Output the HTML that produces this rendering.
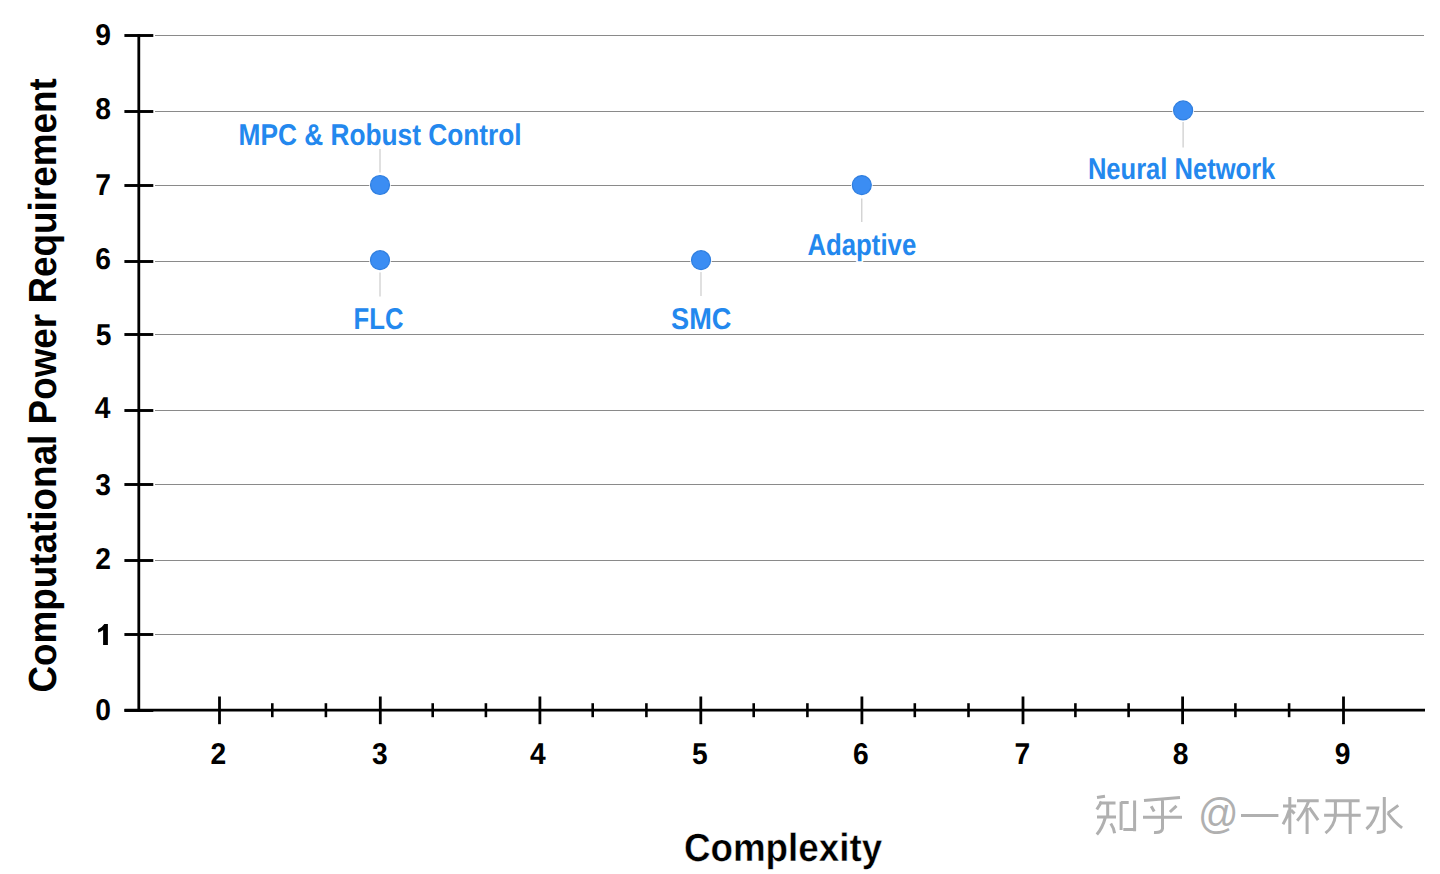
<!DOCTYPE html>
<html><head><meta charset="utf-8"><title>Chart</title>
<style>
html,body{margin:0;padding:0;background:#fff;width:1440px;height:874px;overflow:hidden;}
svg{display:block;}
.tk{font-family:"Liberation Sans",sans-serif;font-weight:bold;text-rendering:geometricPrecision;font-size:30.0px;fill:#000;}
.bl{font-family:"Liberation Sans",sans-serif;font-weight:bold;text-rendering:geometricPrecision;font-size:30.0px;fill:#2388ee;stroke:#fff;stroke-width:4px;paint-order:stroke;stroke-linejoin:round;}
.ti{font-family:"Liberation Sans",sans-serif;font-weight:bold;text-rendering:geometricPrecision;font-size:39.2px;fill:#000;stroke:#fff;stroke-width:0.4px;paint-order:fill;}
.wm{fill:none;stroke:#b0b0b0;stroke-width:3;}
</style></head>
<body>
<svg width="1440" height="874" viewBox="0 0 1440 874">
<line x1="155" y1="634.50" x2="1424" y2="634.50" stroke="#8a8a8a" stroke-width="1"/>
<line x1="155" y1="560.50" x2="1424" y2="560.50" stroke="#8a8a8a" stroke-width="1"/>
<line x1="155" y1="484.50" x2="1424" y2="484.50" stroke="#8a8a8a" stroke-width="1"/>
<line x1="155" y1="410.50" x2="1424" y2="410.50" stroke="#8a8a8a" stroke-width="1"/>
<line x1="155" y1="334.50" x2="1424" y2="334.50" stroke="#8a8a8a" stroke-width="1"/>
<line x1="155" y1="261.50" x2="1424" y2="261.50" stroke="#8a8a8a" stroke-width="1"/>
<line x1="155" y1="185.50" x2="1424" y2="185.50" stroke="#8a8a8a" stroke-width="1"/>
<line x1="155" y1="111.50" x2="1424" y2="111.50" stroke="#8a8a8a" stroke-width="1"/>
<line x1="155" y1="35.50" x2="1424" y2="35.50" stroke="#8a8a8a" stroke-width="1"/>
<line x1="138.8" y1="34" x2="138.8" y2="711.5" stroke="#000" stroke-width="2.8"/>
<line x1="124.4" y1="710.50" x2="153.3" y2="710.50" stroke="#000" stroke-width="2.9"/>
<line x1="124.4" y1="634.50" x2="153.3" y2="634.50" stroke="#000" stroke-width="2.9"/>
<line x1="124.4" y1="560.50" x2="153.3" y2="560.50" stroke="#000" stroke-width="2.9"/>
<line x1="124.4" y1="484.50" x2="153.3" y2="484.50" stroke="#000" stroke-width="2.9"/>
<line x1="124.4" y1="410.50" x2="153.3" y2="410.50" stroke="#000" stroke-width="2.9"/>
<line x1="124.4" y1="334.50" x2="153.3" y2="334.50" stroke="#000" stroke-width="2.9"/>
<line x1="124.4" y1="261.50" x2="153.3" y2="261.50" stroke="#000" stroke-width="2.9"/>
<line x1="124.4" y1="185.50" x2="153.3" y2="185.50" stroke="#000" stroke-width="2.9"/>
<line x1="124.4" y1="111.50" x2="153.3" y2="111.50" stroke="#000" stroke-width="2.9"/>
<line x1="124.4" y1="35.50" x2="153.3" y2="35.50" stroke="#000" stroke-width="2.9"/>
<line x1="124.5" y1="710.2" x2="1425" y2="710.2" stroke="#000" stroke-width="2.8"/>
<line x1="219.5" y1="696.5" x2="219.5" y2="724.2" stroke="#000" stroke-width="2.8"/>
<line x1="272.3" y1="703.2" x2="272.3" y2="717.2" stroke="#000" stroke-width="2.6"/>
<line x1="325.9" y1="703.2" x2="325.9" y2="717.2" stroke="#000" stroke-width="2.6"/>
<line x1="380.3" y1="696.5" x2="380.3" y2="724.2" stroke="#000" stroke-width="2.8"/>
<line x1="432.7" y1="703.2" x2="432.7" y2="717.2" stroke="#000" stroke-width="2.6"/>
<line x1="485.9" y1="703.2" x2="485.9" y2="717.2" stroke="#000" stroke-width="2.6"/>
<line x1="539.9" y1="696.5" x2="539.9" y2="724.2" stroke="#000" stroke-width="2.8"/>
<line x1="592.7" y1="703.2" x2="592.7" y2="717.2" stroke="#000" stroke-width="2.6"/>
<line x1="646.4" y1="703.2" x2="646.4" y2="717.2" stroke="#000" stroke-width="2.6"/>
<line x1="700.8" y1="696.5" x2="700.8" y2="724.2" stroke="#000" stroke-width="2.8"/>
<line x1="753.7" y1="703.2" x2="753.7" y2="717.2" stroke="#000" stroke-width="2.6"/>
<line x1="807.4" y1="703.2" x2="807.4" y2="717.2" stroke="#000" stroke-width="2.6"/>
<line x1="861.9" y1="696.5" x2="861.9" y2="724.2" stroke="#000" stroke-width="2.8"/>
<line x1="914.8" y1="703.2" x2="914.8" y2="717.2" stroke="#000" stroke-width="2.6"/>
<line x1="968.5" y1="703.2" x2="968.5" y2="717.2" stroke="#000" stroke-width="2.6"/>
<line x1="1023.0" y1="696.5" x2="1023.0" y2="724.2" stroke="#000" stroke-width="2.8"/>
<line x1="1075.4" y1="703.2" x2="1075.4" y2="717.2" stroke="#000" stroke-width="2.6"/>
<line x1="1128.6" y1="703.2" x2="1128.6" y2="717.2" stroke="#000" stroke-width="2.6"/>
<line x1="1182.6" y1="696.5" x2="1182.6" y2="724.2" stroke="#000" stroke-width="2.8"/>
<line x1="1235.4" y1="703.2" x2="1235.4" y2="717.2" stroke="#000" stroke-width="2.6"/>
<line x1="1289.1" y1="703.2" x2="1289.1" y2="717.2" stroke="#000" stroke-width="2.6"/>
<line x1="1343.5" y1="696.5" x2="1343.5" y2="724.2" stroke="#000" stroke-width="2.8"/>
<text x="103.00" y="720.45" text-anchor="middle" class="tk" textLength="15.7" lengthAdjust="spacingAndGlyphs">0</text>
<path d="M103.1,645 L107.9,645 L107.9,623.9 L104.3,623.9 Q102,627.6 98.1,629.3 L98.1,632.6 Q101,631.6 103.1,629.9 Z" fill="#000"/>
<text x="103.20" y="568.60" text-anchor="middle" class="tk" textLength="15.7" lengthAdjust="spacingAndGlyphs">2</text>
<text x="103.20" y="494.80" text-anchor="middle" class="tk" textLength="15.7" lengthAdjust="spacingAndGlyphs">3</text>
<text x="102.70" y="418.35" text-anchor="middle" class="tk" textLength="15.7" lengthAdjust="spacingAndGlyphs">4</text>
<text x="103.50" y="344.50" text-anchor="middle" class="tk" textLength="15.7" lengthAdjust="spacingAndGlyphs">5</text>
<text x="103.20" y="268.60" text-anchor="middle" class="tk" textLength="15.7" lengthAdjust="spacingAndGlyphs">6</text>
<text x="103.20" y="195.25" text-anchor="middle" class="tk" textLength="15.7" lengthAdjust="spacingAndGlyphs">7</text>
<text x="103.10" y="119.20" text-anchor="middle" class="tk" textLength="15.7" lengthAdjust="spacingAndGlyphs">8</text>
<text x="103.10" y="45.45" text-anchor="middle" class="tk" textLength="15.7" lengthAdjust="spacingAndGlyphs">9</text>
<text x="218.30" y="764.25" text-anchor="middle" class="tk" textLength="15.7" lengthAdjust="spacingAndGlyphs">2</text>
<text x="379.75" y="764.15" text-anchor="middle" class="tk" textLength="15.7" lengthAdjust="spacingAndGlyphs">3</text>
<text x="537.85" y="764.25" text-anchor="middle" class="tk" textLength="15.7" lengthAdjust="spacingAndGlyphs">4</text>
<text x="699.80" y="764.15" text-anchor="middle" class="tk" textLength="15.7" lengthAdjust="spacingAndGlyphs">5</text>
<text x="860.75" y="764.15" text-anchor="middle" class="tk" textLength="15.7" lengthAdjust="spacingAndGlyphs">6</text>
<text x="1022.40" y="764.30" text-anchor="middle" class="tk" textLength="15.7" lengthAdjust="spacingAndGlyphs">7</text>
<text x="1180.65" y="764.25" text-anchor="middle" class="tk" textLength="15.7" lengthAdjust="spacingAndGlyphs">8</text>
<text x="1342.70" y="764.15" text-anchor="middle" class="tk" textLength="15.7" lengthAdjust="spacingAndGlyphs">9</text>
<line x1="380.0" y1="149" x2="380.0" y2="172.5" stroke="#c6c6c6" stroke-width="1.1"/>
<circle cx="380.00" cy="185.00" r="10.8" fill="#fff"/>
<circle cx="380.00" cy="185.00" r="9.5" fill="#3b8df3" stroke="#2f7edf" stroke-width="1.2"/>
<line x1="380.0" y1="272.5" x2="380.0" y2="296.5" stroke="#c6c6c6" stroke-width="1.1"/>
<circle cx="380.00" cy="260.20" r="10.8" fill="#fff"/>
<circle cx="380.00" cy="260.20" r="9.5" fill="#3b8df3" stroke="#2f7edf" stroke-width="1.2"/>
<line x1="701.0" y1="272" x2="701.0" y2="296" stroke="#c6c6c6" stroke-width="1.1"/>
<circle cx="701.05" cy="260.20" r="10.8" fill="#fff"/>
<circle cx="701.05" cy="260.20" r="9.5" fill="#3b8df3" stroke="#2f7edf" stroke-width="1.2"/>
<line x1="861.8" y1="198.5" x2="861.8" y2="222" stroke="#c6c6c6" stroke-width="1.1"/>
<circle cx="861.80" cy="185.10" r="10.8" fill="#fff"/>
<circle cx="861.80" cy="185.10" r="9.5" fill="#3b8df3" stroke="#2f7edf" stroke-width="1.2"/>
<line x1="1183.1" y1="122" x2="1183.1" y2="147.5" stroke="#c6c6c6" stroke-width="1.1"/>
<circle cx="1183.10" cy="110.40" r="10.8" fill="#fff"/>
<circle cx="1183.10" cy="110.40" r="9.5" fill="#3b8df3" stroke="#2f7edf" stroke-width="1.2"/>
<text x="380.05" y="144.50" text-anchor="middle" class="bl" textLength="283.10" lengthAdjust="spacingAndGlyphs">MPC &amp; Robust Control</text>
<text x="378.55" y="328.75" text-anchor="middle" class="bl" textLength="49.90" lengthAdjust="spacingAndGlyphs">FLC</text>
<text x="701.20" y="328.90" text-anchor="middle" class="bl" textLength="60.20" lengthAdjust="spacingAndGlyphs">SMC</text>
<text x="861.85" y="254.90" text-anchor="middle" class="bl" textLength="108.90" lengthAdjust="spacingAndGlyphs">Adaptive</text>
<text x="1181.60" y="179.20" text-anchor="middle" class="bl" textLength="187.40" lengthAdjust="spacingAndGlyphs">Neural Network</text>
<text x="783.00" y="860.90" text-anchor="middle" class="ti" textLength="198.20" lengthAdjust="spacingAndGlyphs">Complexity</text>
<text transform="translate(56.05,385.45) rotate(-90)" x="0" y="0" text-anchor="middle" class="ti" style="stroke-width:0.0px" textLength="614.25" lengthAdjust="spacingAndGlyphs">Computational Power Requirement</text>
<g class="wm">
<path d="M1097,797.5 L1105,796.3 M1101.8,801.5 L1096.8,809.5 M1099,803 L1115.5,803 M1107.7,803 L1107.7,816.5 M1097,816.9 L1116,816.9 M1105.5,817 Q1102.5,828 1096.8,834.6 M1110.8,823.5 Q1113.8,828 1114.6,833.2 M1121.1,801.8 L1121.1,830 M1121.1,802.5 L1128.7,802.5 M1134.6,800.5 L1134.6,831.2 M1123.3,829.6 L1134.6,829.6"/>
<path d="M1144,800.5 L1180,797.5 M1162.5,800 L1162.5,828.5 Q1162,833 1154,832.4 M1151.2,806.3 L1154.2,811.4 M1176.5,805.8 L1169.9,812 M1143,817.2 L1182,817.2"/>
<path d="M1241,815.5 L1278.4,815.5"/>
<path d="M1289.8,797 L1289.8,834 M1283,806 L1296.2,806 M1289.3,810 Q1287,818 1283,824.2 M1291,810 L1294.5,813.6 M1297,800.7 L1318.7,800.7 M1308.8,801 Q1304,813 1297.2,820.8 M1307.1,808 L1307.1,834 M1309.3,807.6 L1318.1,820.2"/>
<path d="M1325.5,800.7 L1359.6,800.7 M1324.1,815.3 L1360.7,815.3 M1335.4,801 L1335.4,815 Q1334.5,826 1325.5,833.2 M1350.2,801 L1350.2,834"/>
<path d="M1384.3,797 L1384.3,830 Q1384,832.4 1376.8,832.4 M1366.4,808.1 L1377.7,808.1 Q1375,822 1366.4,829 M1398.3,805.4 L1387.8,813.1 M1387.8,813 Q1394,822 1402.1,827.9"/>
</g>
<text transform="translate(1197.9,828.2) scale(1,1.07)" style="font-family:'Liberation Sans',sans-serif;font-size:40px;fill:#b0b0b0">@</text>

</svg>
</body></html>
